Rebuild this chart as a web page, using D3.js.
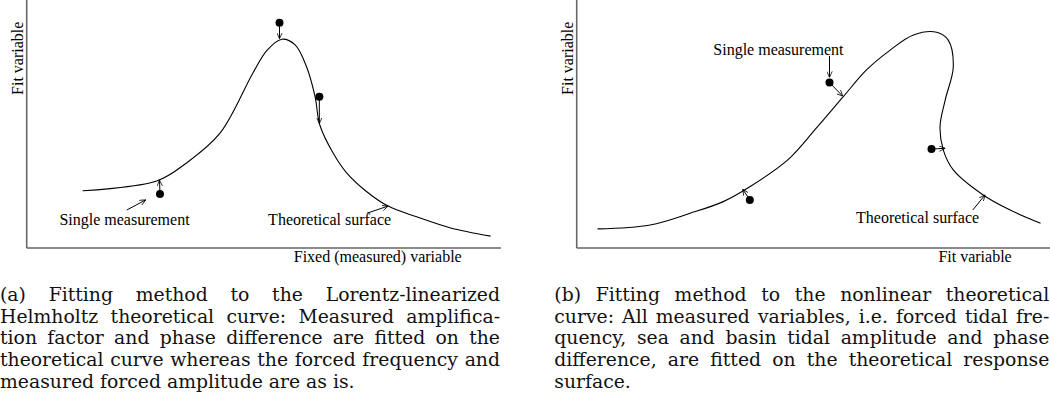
<!DOCTYPE html>
<html>
<head>
<meta charset="utf-8">
<script src="https://cdn.jsdelivr.net/npm/d3@7"></script>
<style>
  body { margin: 0; background: #fff; width: 1050px; height: 407px; overflow: hidden; position: relative; }
  svg { position: absolute; left: 0; top: 0; }
  .lbl { font-family: "Liberation Serif", "Times New Roman", serif; font-size: 16px; fill: #000; }
  .caption { position: absolute; font-family: "DejaVu Serif", serif; line-height: 21.67px; color: #111; }
  .caption div { text-align: justify; text-align-last: justify; white-space: nowrap; }
  .caption div.last { text-align-last: left; }
</style>
</head>
<body>
<div id="chart"></div>
<script>
// sketch curves (0-100 units on both axes)
var curveA = [[11.8,23.1],[27.4,27.0],[33.7,34.3],[40.8,46.4],[47.7,70.6],[50.7,79.8],[53.8,84.2],
              [56.6,81.9],[59.0,73.1],[60.8,61.0],[61.8,49.6],[64.6,38.3],[67.5,30.2],[71.7,22.7],
              [76.2,16.9],[82.2,12.6],[89.2,8.2],[97.8,4.8]];
var curveB = [[4.4,7.7],[15.5,9.3],[23.9,14.0],[30.9,18.7],[36.5,24.7],[44.5,35.5],[50.6,48.5],
              [56.2,61.0],[61.1,71.8],[66.1,79.8],[71.0,85.9],[75.9,87.0],[78.3,83.9],[79.4,73.1],
              [77.7,59.7],[76.6,48.9],[77.3,39.5],[79.4,31.5],[85.7,21.4],[91.4,15.3],[97.8,10.0]];

// measured points and where they land on the curve
var measA = [[53.3,90.8],[61.7,61.0],[28.1,21.8]];
var fitA  = [[53.3,84.4],[61.7,50.2],[28.0,27.4]];
var measB = [[53.3,66.7],[74.8,39.9],[36.5,19.4]];
var fitB  = [[56.1,61.2],[77.7,40.2],[35.0,23.7]];

// text labels with their pointer arrows
var labelsA = [
  {text: "Single measurement", at: [6.9, 9.3], from: [21.1,15.3], to: [25.1,19.4]},
  {text: "Theoretical surface", at: [50.9, 9.3], from: [71.7,14.0], to: [76.2,16.9]}
];
var labelsB = [
  {text: "Single measurement", at: [28.8, 77.8], from: [53.3,77.4], to: [53.3,68.8]},
  {text: "Theoretical surface", at: [58.9, 10.0], from: [83.5,15.3], to: [86.1,21.4]}
];

var xTitles = ["Fixed (measured) variable", "Fit variable"];
var yTitle = "Fit variable";

var captionA = ["(a) Fitting method to the Lorentz-linearized",
  "Helmholtz theoretical curve: Measured amplifica-",
  "tion factor and phase difference are fitted on the",
  "theoretical curve whereas the forced frequency and",
  "measured forced amplitude are as is."];
var captionB = ["(b) Fitting method to the nonlinear theoretical",
  "curve: All measured variables, i.e. forced tidal fre-",
  "quency, sea and basin tidal amplitude and phase",
  "difference, are fitted on the theoretical response",
  "surface."];

var svg = d3.select("#chart").append("svg")
    .attr("width", 1050)
    .attr("height", 407);

var defs = svg.append("defs");
defs.append("marker")
    .attr("id", "head")
    .attr("viewBox", "0 0 10 10")
    .attr("refX", 10).attr("refY", 5)
    .attr("markerWidth", 6).attr("markerHeight", 6)
    .attr("markerUnits", "userSpaceOnUse")
    .attr("orient", "auto")
  .append("path")
    .attr("d", "M0,0.5 L10,5 L0,9.5")
    .attr("fill", "none")
    .attr("stroke", "#000")
    .attr("stroke-width", 1.3);

function drawPanel(left, curve, meas, fit, labels, xTitle, xTitleEnd) {
    var width = 474.3, height = 248;
    var x = d3.scaleLinear().domain([0, 100]).range([0, width]);
    var y = d3.scaleLinear().domain([0, 100]).range([height, 0]);

    var g = svg.append("g").attr("transform", "translate(" + left + ",0)");

    // axes (no ticks)
    g.append("line").attr("x1", 0).attr("x2", 0).attr("y1", 0).attr("y2", height)
        .attr("stroke", "#666").attr("stroke-width", 1.6);
    g.append("line").attr("x1", 0).attr("x2", width).attr("y1", height).attr("y2", height)
        .attr("stroke", "#666").attr("stroke-width", 1.6);

    var line = d3.line()
        .x(function(d) { return x(d[0]); })
        .y(function(d) { return y(d[1]); })
        .curve(d3.curveCatmullRom.alpha(0.5));

    g.append("path")
        .attr("d", line(curve))
        .attr("fill", "none")
        .attr("stroke", "#000")
        .attr("stroke-width", 1.1);

    meas.forEach(function(d, i) {
        g.append("line")
            .attr("x1", x(d[0])).attr("y1", y(d[1]))
            .attr("x2", x(fit[i][0])).attr("y2", y(fit[i][1]))
            .attr("stroke", "#000").attr("stroke-width", 1)
            .attr("marker-end", "url(#head)");
    });
    g.selectAll(".dot")
        .data(meas)
        .enter().append("circle")
        .attr("class", "dot")
        .attr("cx", function(d) { return x(d[0]); })
        .attr("cy", function(d) { return y(d[1]); })
        .attr("r", 4)
        .attr("fill", "#000");

    labels.forEach(function(d) {
        g.append("text").attr("class", "lbl")
            .attr("x", x(d.at[0])).attr("y", y(d.at[1]))
            .text(d.text);
        g.append("line")
            .attr("x1", x(d.from[0])).attr("y1", y(d.from[1]))
            .attr("x2", x(d.to[0])).attr("y2", y(d.to[1]))
            .attr("stroke", "#000").attr("stroke-width", 1)
            .attr("marker-end", "url(#head)");
    });

    g.append("text").attr("class", "lbl")
        .attr("x", xTitleEnd).attr("y", 262)
        .attr("text-anchor", "end")
        .text(xTitle);

    g.append("text").attr("class", "lbl")
        .attr("transform", "translate(-4,58.3) rotate(-90)")
        .attr("text-anchor", "middle")
        .text(yTitle);
}

drawPanel(26.7, curveA, measA, fitA, labelsA, xTitles[0], 435);
drawPanel(576.7, curveB, measB, fitB, labelsB, xTitles[1], 435);

// size caption font so the longest line just fills the column
var ctx = document.createElement("canvas").getContext("2d");
ctx.font = "100px 'DejaVu Serif'";
var widest = d3.max(captionA.concat(captionB), function(s) { return ctx.measureText(s).width; });
var capSize = Math.min(19, 100 * 496 / widest);

function caption(lines, left, w) {
    var c = d3.select("body").append("div")
        .attr("class", "caption")
        .style("left", left + "px")
        .style("width", w + "px")
        .style("font-size", capSize + "px")
        .style("top", (301.7 - 21.67 / 2 - capSize * 0.36) + "px");
    c.selectAll("div")
        .data(lines)
        .enter().append("div")
        .attr("class", function(d, i) { return i === lines.length - 1 ? "last" : null; })
        .text(function(d) { return d; });
}
caption(captionA, 0, 500);
caption(captionB, 554.3, 495);
</script>
</body>
</html>
